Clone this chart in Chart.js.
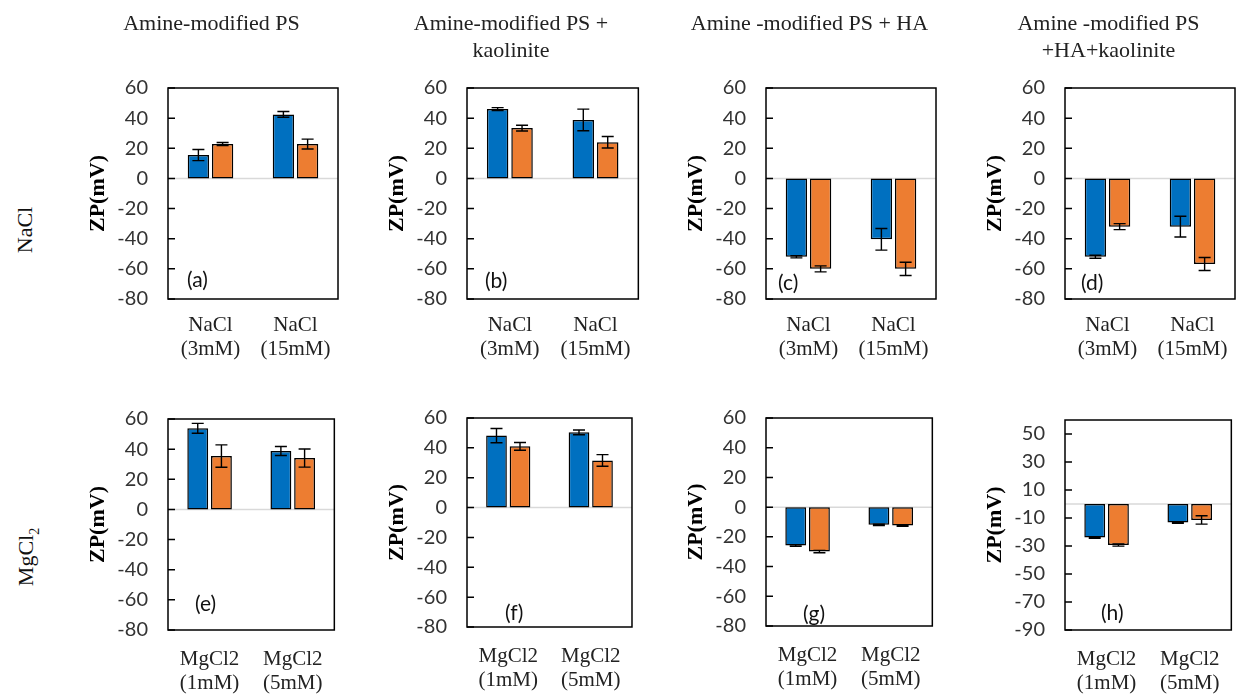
<!DOCTYPE html>
<html>
<head>
<meta charset="utf-8">
<script src="https://cdn.jsdelivr.net/npm/chart.js@4.4.1/dist/chart.umd.min.js"></script>
<style>
  html, body { margin: 0; padding: 0; background: #fff; overflow: hidden; width: 1238px; height: 698px; }
  .panel { position: absolute; }
  .row-label {
    position: absolute;
    font-family: 'Liberation Serif', serif;
    font-size: 22px;
    color: #111;
    white-space: nowrap;
    transform: translate(-50%, -50%) rotate(-90deg);
  }
  .row-label sub { font-size: 14px; }
</style>
</head>
<body>
<div class="row-label" style="left:25px; top:230px;">NaCl</div>
<div class="row-label" style="left:28px; top:557px;">MgCl<sub>2</sub></div>

<script>
// categories and tick labels
const naclCats = [['NaCl', '(3mM)'], ['NaCl', '(15mM)']];
const mgcl2Cats = [['MgCl2', '(1mM)'], ['MgCl2', '(5mM)']];
const ticksStd = [-80, -60, -40, -20, 0, 20, 40, 60];
const ticksH = [-90, -70, -50, -30, -10, 10, 30, 50];

// (a) Amine-modified PS, NaCl
const aBlue = [15.5, 42.5];
const aOrange = [22.8, 22.8];
const aBlueErr = [3.7, 1.9];
const aOrangeErr = [1.0, 3.3];
// (b) + kaolinite, NaCl
const bBlue = [46.0, 38.8];
const bOrange = [33.4, 24.0];
const bBlueErr = [1.0, 7.2];
const bOrangeErr = [1.9, 3.8];
// (c) + HA, NaCl
const cBlue = [-52.0, -40.4];
const cOrange = [-60.0, -60.0];
const cBlueErr = [0.7, 7.2];
const cOrangeErr = [2.0, 4.4];
// (d) + HA + kaolinite, NaCl
const dBlue = [-52.0, -32.0];
const dOrange = [-32.0, -56.8];
const dBlueErr = [1.0, 6.9];
const dOrangeErr = [2.0, 4.3];
// (e) Amine-modified PS, MgCl2
const eBlue = [53.8, 38.8];
const eOrange = [35.4, 34.1];
const eBlueErr = [3.3, 3.0];
const eOrangeErr = [7.4, 6.0];
// (f) + kaolinite, MgCl2
const fBlue = [48.2, 50.4];
const fOrange = [41.0, 31.6];
const fBlueErr = [4.8, 1.6];
const fOrangeErr = [2.6, 3.9];
// (g) + HA, MgCl2
const gBlue = [-25.9, -11.9];
const gOrange = [-29.9, -12.4];
const gBlueErr = [0.5, 0.5];
const gOrangeErr = [0.8, 0.5];
// (h) + HA + kaolinite, MgCl2
const hBlue = [-24.0, -13.3];
const hOrange = [-29.3, -11.4];
const hBlueErr = [0.5, 0.5];
const hOrangeErr = [0.8, 3.0];

const BLUE = '#0070C0';
const ORANGE = '#ED7D31';
const SERIF = "'Liberation Serif', 'Times New Roman', serif";
const SANS = "Lato, 'Noto Sans', sans-serif";

Chart.defaults.font.family = SERIF;

// frame, zero line, inward ticks, error bars and panel letter
const panelDecor = {
  id: 'panelDecor',
  beforeDatasetsDraw(chart) {
    const { ctx, chartArea: a } = chart;
    const y0 = chart.scales.y.getPixelForValue(0);
    ctx.save();
    ctx.strokeStyle = '#d9d9d9';
    ctx.lineWidth = 1.5;
    ctx.beginPath();
    ctx.moveTo(a.left, y0);
    ctx.lineTo(a.right, y0);
    ctx.stroke();
    ctx.restore();
  },
  afterDatasetsDraw(chart) {
    const { ctx } = chart;
    const y = chart.scales.y;
    ctx.save();
    ctx.strokeStyle = '#000';
    ctx.lineWidth = 1.4;
    chart.data.datasets.forEach((ds, i) => {
      chart.getDatasetMeta(i).data.forEach((bar, j) => {
        const v = ds.data[j], e = ds.errors[j];
        const yt = y.getPixelForValue(v + e);
        const yb = y.getPixelForValue(v - e);
        ctx.beginPath();
        ctx.moveTo(bar.x, yt); ctx.lineTo(bar.x, yb);
        ctx.moveTo(bar.x - 6, yt); ctx.lineTo(bar.x + 6, yt);
        ctx.moveTo(bar.x - 6, yb); ctx.lineTo(bar.x + 6, yb);
        ctx.stroke();
      });
    });
    ctx.restore();
  },
  afterDraw(chart, args, opts) {
    const { ctx, chartArea: a } = chart;
    const y = chart.scales.y;
    ctx.save();
    ctx.strokeStyle = '#000';
    ctx.lineWidth = 1.5;
    ctx.strokeRect(a.left, a.top, a.right - a.left, a.bottom - a.top);
    ctx.beginPath();
    y.ticks.forEach(t => {
      const py = y.getPixelForValue(t.value);
      ctx.moveTo(a.left, py);
      ctx.lineTo(a.left + 7, py);
    });
    ctx.stroke();
    ctx.fillStyle = '#111';
    ctx.font = '21px ' + SANS;
    ctx.textBaseline = 'middle';
    ctx.textAlign = 'left';
    ctx.fillText(opts.letter, a.left + opts.dx, a.bottom - opts.dy);
    ctx.restore();
  }
};

// panel boxes (plot frame in page pixels)
const panels = [
  { id: 'a', left: 168, top: 88, right: 343, bottom: 299, rowTop: 0, rowH: 370,
    title: 'Amine-modified PS', cats: naclCats, ticks: ticksStd, min: -80, max: 60,
    blue: aBlue, orange: aOrange, blueErr: aBlueErr, orangeErr: aOrangeErr, letter: '(a)', dx: 19, dy: 19, xpad: 14 },
  { id: 'b', left: 467, top: 88, right: 643, bottom: 299, rowTop: 0, rowH: 370,
    title: ['Amine-modified PS +', 'kaolinite'], cats: naclCats, ticks: ticksStd, min: -80, max: 60,
    blue: bBlue, orange: bOrange, blueErr: bBlueErr, orangeErr: bOrangeErr, letter: '(b)', dx: 18, dy: 18, xpad: 14 },
  { id: 'c', left: 766, top: 88, right: 941, bottom: 299, rowTop: 0, rowH: 370,
    title: 'Amine -modified PS + HA', cats: naclCats, ticks: ticksStd, min: -80, max: 60,
    blue: cBlue, orange: cOrange, blueErr: cBlueErr, orangeErr: cOrangeErr, letter: '(c)', dx: 12, dy: 16, xpad: 14 },
  { id: 'd', left: 1065, top: 88, right: 1240, bottom: 299, rowTop: 0, rowH: 370,
    title: ['Amine -modified PS', '+HA+kaolinite'], cats: naclCats, ticks: ticksStd, min: -80, max: 60,
    blue: dBlue, orange: dOrange, blueErr: dBlueErr, orangeErr: dOrangeErr, letter: '(d)', dx: 16, dy: 16, xpad: 14 },
  { id: 'e', left: 168, top: 419, right: 338, bottom: 630, rowTop: 370, rowH: 328,
    title: '', cats: mgcl2Cats, ticks: ticksStd, min: -80, max: 60,
    blue: eBlue, orange: eOrange, blueErr: eBlueErr, orangeErr: eOrangeErr, letter: '(e)', dx: 27, dy: 26, xpad: 17 },
  { id: 'f', left: 467, top: 418, right: 636, bottom: 627, rowTop: 370, rowH: 328,
    title: '', cats: mgcl2Cats, ticks: ticksStd, min: -80, max: 60,
    blue: fBlue, orange: fOrange, blueErr: fBlueErr, orangeErr: fOrangeErr, letter: '(f)', dx: 38, dy: 14, xpad: 17 },
  { id: 'g', left: 766, top: 418, right: 936, bottom: 626, rowTop: 370, rowH: 328,
    title: '', cats: mgcl2Cats, ticks: ticksStd, min: -80, max: 60,
    blue: gBlue, orange: gOrange, blueErr: gBlueErr, orangeErr: gOrangeErr, letter: '(g)', dx: 37, dy: 12, xpad: 17 },
  { id: 'h', left: 1065, top: 420, right: 1235, bottom: 630, rowTop: 370, rowH: 328,
    title: '', cats: mgcl2Cats, ticks: ticksH, min: -90, max: 60,
    blue: hBlue, orange: hOrange, blueErr: hBlueErr, orangeErr: hOrangeErr, letter: '(h)', dx: 36, dy: 17, xpad: 17 }
];

const YAXIS_W = 88;
const TITLE_LH = 27.5;

panels.forEach(p => {
  const canvasLeft = p.left - YAXIS_W;
  const canvasW = p.right - canvasLeft + 2;
  const holder = document.createElement('div');
  holder.className = 'panel';
  holder.style.left = canvasLeft + 'px';
  holder.style.top = p.rowTop + 'px';
  const canvas = document.createElement('canvas');
  canvas.width = canvasW;
  canvas.height = p.rowH;
  canvas.style.width = canvasW + 'px';
  canvas.style.height = p.rowH + 'px';
  holder.appendChild(canvas);
  document.body.appendChild(holder);

  const lines = Array.isArray(p.title) ? p.title.length : (p.title ? 1 : 0);
  const topSpace = p.top - p.rowTop;
  const xAxisH = p.rowTop + p.rowH - p.bottom;

  new Chart(canvas.getContext('2d'), {
    type: 'bar',
    data: {
      labels: p.cats,
      datasets: [
        { label: 'Series 1', data: p.blue, errors: p.blueErr, backgroundColor: BLUE,
          borderColor: '#000', borderWidth: 1.5, borderSkipped: false },
        { label: 'Series 2', data: p.orange, errors: p.orangeErr, backgroundColor: ORANGE,
          borderColor: '#000', borderWidth: 1.5, borderSkipped: false }
      ]
    },
    options: {
      responsive: false,
      animation: false,
      devicePixelRatio: 1,
      categoryPercentage: 0.57,
      barPercentage: 0.88,
      layout: { padding: { top: lines ? 0 : topSpace, right: 2, left: 0, bottom: 0 } },
      scales: {
        x: {
          afterFit: s => { s.height = xAxisH; },
          grid: { display: false, drawTicks: false },
          border: { display: false },
          ticks: { padding: p.xpad, color: '#222', maxRotation: 0, autoSkip: false,
                   font: { family: SERIF, size: 21, lineHeight: 1.15 } }
        },
        y: {
          min: p.min,
          max: p.max,
          afterBuildTicks: axis => { axis.ticks = p.ticks.map(v => ({ value: v })); },
          afterFit: s => { s.width = YAXIS_W; },
          grid: { display: false, drawTicks: false },
          border: { display: false },
          ticks: { padding: 20, color: '#333', autoSkip: false,
                   font: { family: SANS, size: 20 } },
          title: { display: true, text: 'ZP(mV)', color: '#000', padding: { top: 5, bottom: 0 },
                   font: { family: SERIF, size: 22, weight: 'bold' } }
        }
      },
      plugins: {
        legend: { display: false },
        tooltip: { enabled: false },
        title: {
          display: lines > 0,
          text: p.title,
          color: '#222',
          font: { family: SERIF, size: 22, weight: 'normal', lineHeight: 1.25 },
          padding: { top: 10, bottom: topSpace - 10 - lines * TITLE_LH }
        },
        panelDecor: { letter: p.letter, dx: p.dx, dy: p.dy }
      }
    },
    plugins: [panelDecor]
  });
});
</script>
</body>
</html>
